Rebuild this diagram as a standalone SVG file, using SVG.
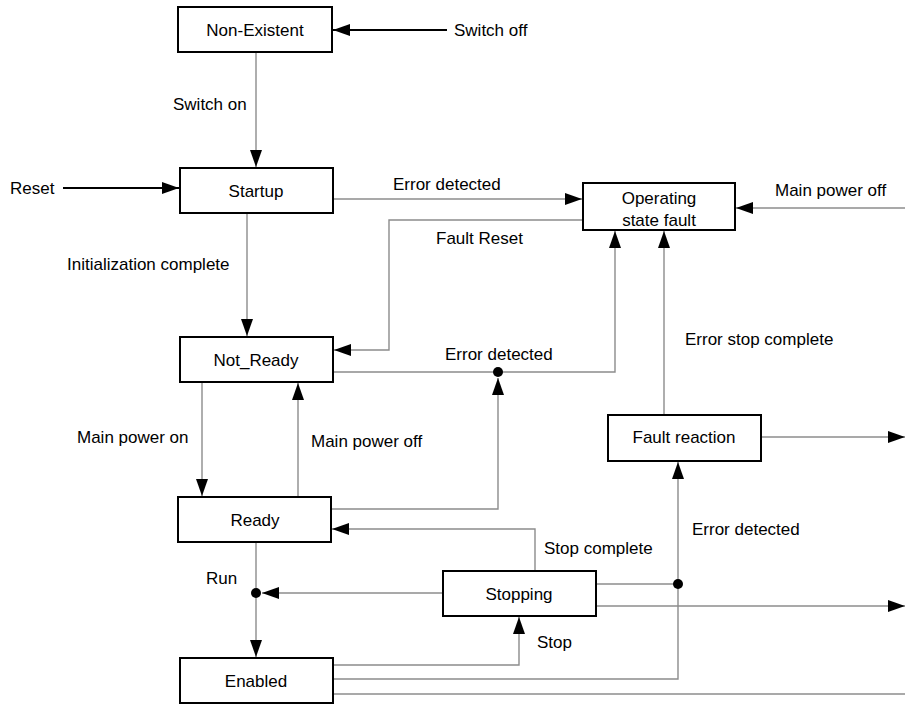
<svg xmlns="http://www.w3.org/2000/svg" width="905" height="706" viewBox="0 0 905 706">
<style>
.box{fill:#fff;stroke:#000;stroke-width:2}
.t{font-family:"Liberation Sans",Arial,sans-serif;font-size:17px;fill:#000}
.c{text-anchor:middle}
.ln{fill:none;stroke:#8c8c8c;stroke-width:1.4}
.lb{fill:none;stroke:#000;stroke-width:2}
.dot{fill:#000}
</style>
<defs>
<marker id="ah" markerUnits="userSpaceOnUse" markerWidth="18" markerHeight="13" refX="17" refY="6" orient="auto">
<path d="M0,0 L17,6 L0,12 z" fill="#000"/>
</marker>
</defs>
<rect width="905" height="706" fill="#fff"/>
<g id="connectors">
<path class="lb" d="M447,30 H333" marker-end="url(#ah)"/>
<path class="ln" d="M256,52 V167" marker-end="url(#ah)"/>
<path class="lb" d="M63,188 H179" marker-end="url(#ah)"/>
<path class="ln" d="M247,213 V336" marker-end="url(#ah)"/>
<path class="ln" d="M333,199 H582" marker-end="url(#ah)"/>
<path class="ln" d="M905,208 H736" marker-end="url(#ah)"/>
<path class="ln" d="M583,220 H389 V350 H334" marker-end="url(#ah)"/>
<path class="ln" d="M333,372 H615 V231" marker-end="url(#ah)"/>
<path class="ln" d="M331,509 H498 V378" marker-end="url(#ah)"/>
<circle class="dot" cx="498" cy="372" r="5"/>
<path class="ln" d="M664,415 V231" marker-end="url(#ah)"/>
<path class="ln" d="M761,437 H905" marker-end="url(#ah)"/>
<path class="ln" d="M202,382 V496" marker-end="url(#ah)"/>
<path class="ln" d="M298,497 V383" marker-end="url(#ah)"/>
<path class="ln" d="M535,571 V529 H332" marker-end="url(#ah)"/>
<path class="ln" d="M256,542 V657" marker-end="url(#ah)"/>
<path class="ln" d="M443,593 H262" marker-end="url(#ah)"/>
<circle class="dot" cx="256" cy="593" r="5"/>
<path class="ln" d="M333,665 H519 V617" marker-end="url(#ah)"/>
<path class="ln" d="M333,679 H678 V462" marker-end="url(#ah)"/>
<path class="ln" d="M596,584 H678"/>
<circle class="dot" cx="678" cy="584" r="5"/>
<path class="ln" d="M596,606 H905" marker-end="url(#ah)"/>
<path class="ln" d="M333,694 H905"/>
</g>
<g id="labels">
<text class="t" x="454" y="36">Switch off</text>
<text class="t" x="173" y="110">Switch on</text>
<text class="t" x="10" y="194">Reset</text>
<text class="t" x="393" y="190">Error detected</text>
<text class="t" x="775" y="196">Main power off</text>
<text class="t" x="436" y="244">Fault Reset</text>
<text class="t" x="67" y="270">Initialization complete</text>
<text class="t" x="445" y="360">Error detected</text>
<text class="t" x="685" y="345">Error stop complete</text>
<text class="t" x="77" y="443">Main power on</text>
<text class="t" x="311" y="447">Main power off</text>
<text class="t" x="692" y="535">Error detected</text>
<text class="t" x="544" y="554">Stop complete</text>
<text class="t" x="206" y="584">Run</text>
<text class="t" x="537" y="648">Stop</text>
</g>
<g id="non-existent"><rect class="box" x="178" y="7" width="154" height="45"/><text class="t c" x="255" y="36">Non-Existent</text></g>
<g id="startup"><rect class="box" x="180" y="168" width="153" height="45"/><text class="t c" x="256" y="197">Startup</text></g>
<g id="operating-state-fault"><rect class="box" x="583" y="183" width="152" height="47"/><text class="t c" x="659" y="204">Operating</text><text class="t c" x="659" y="226">state fault</text></g>
<g id="not-ready"><rect class="box" x="180" y="337" width="153" height="45"/><text class="t c" x="256" y="366">Not_Ready</text></g>
<g id="ready"><rect class="box" x="178" y="497" width="153" height="45"/><text class="t c" x="255" y="526">Ready</text></g>
<g id="fault-reaction"><rect class="box" x="608" y="415" width="153" height="46"/><text class="t c" x="684" y="443">Fault reaction</text></g>
<g id="stopping"><rect class="box" x="443" y="571" width="153" height="45"/><text class="t c" x="519" y="600">Stopping</text></g>
<g id="enabled"><rect class="box" x="180" y="658" width="153" height="45"/><text class="t c" x="256" y="687">Enabled</text></g>
</svg>
